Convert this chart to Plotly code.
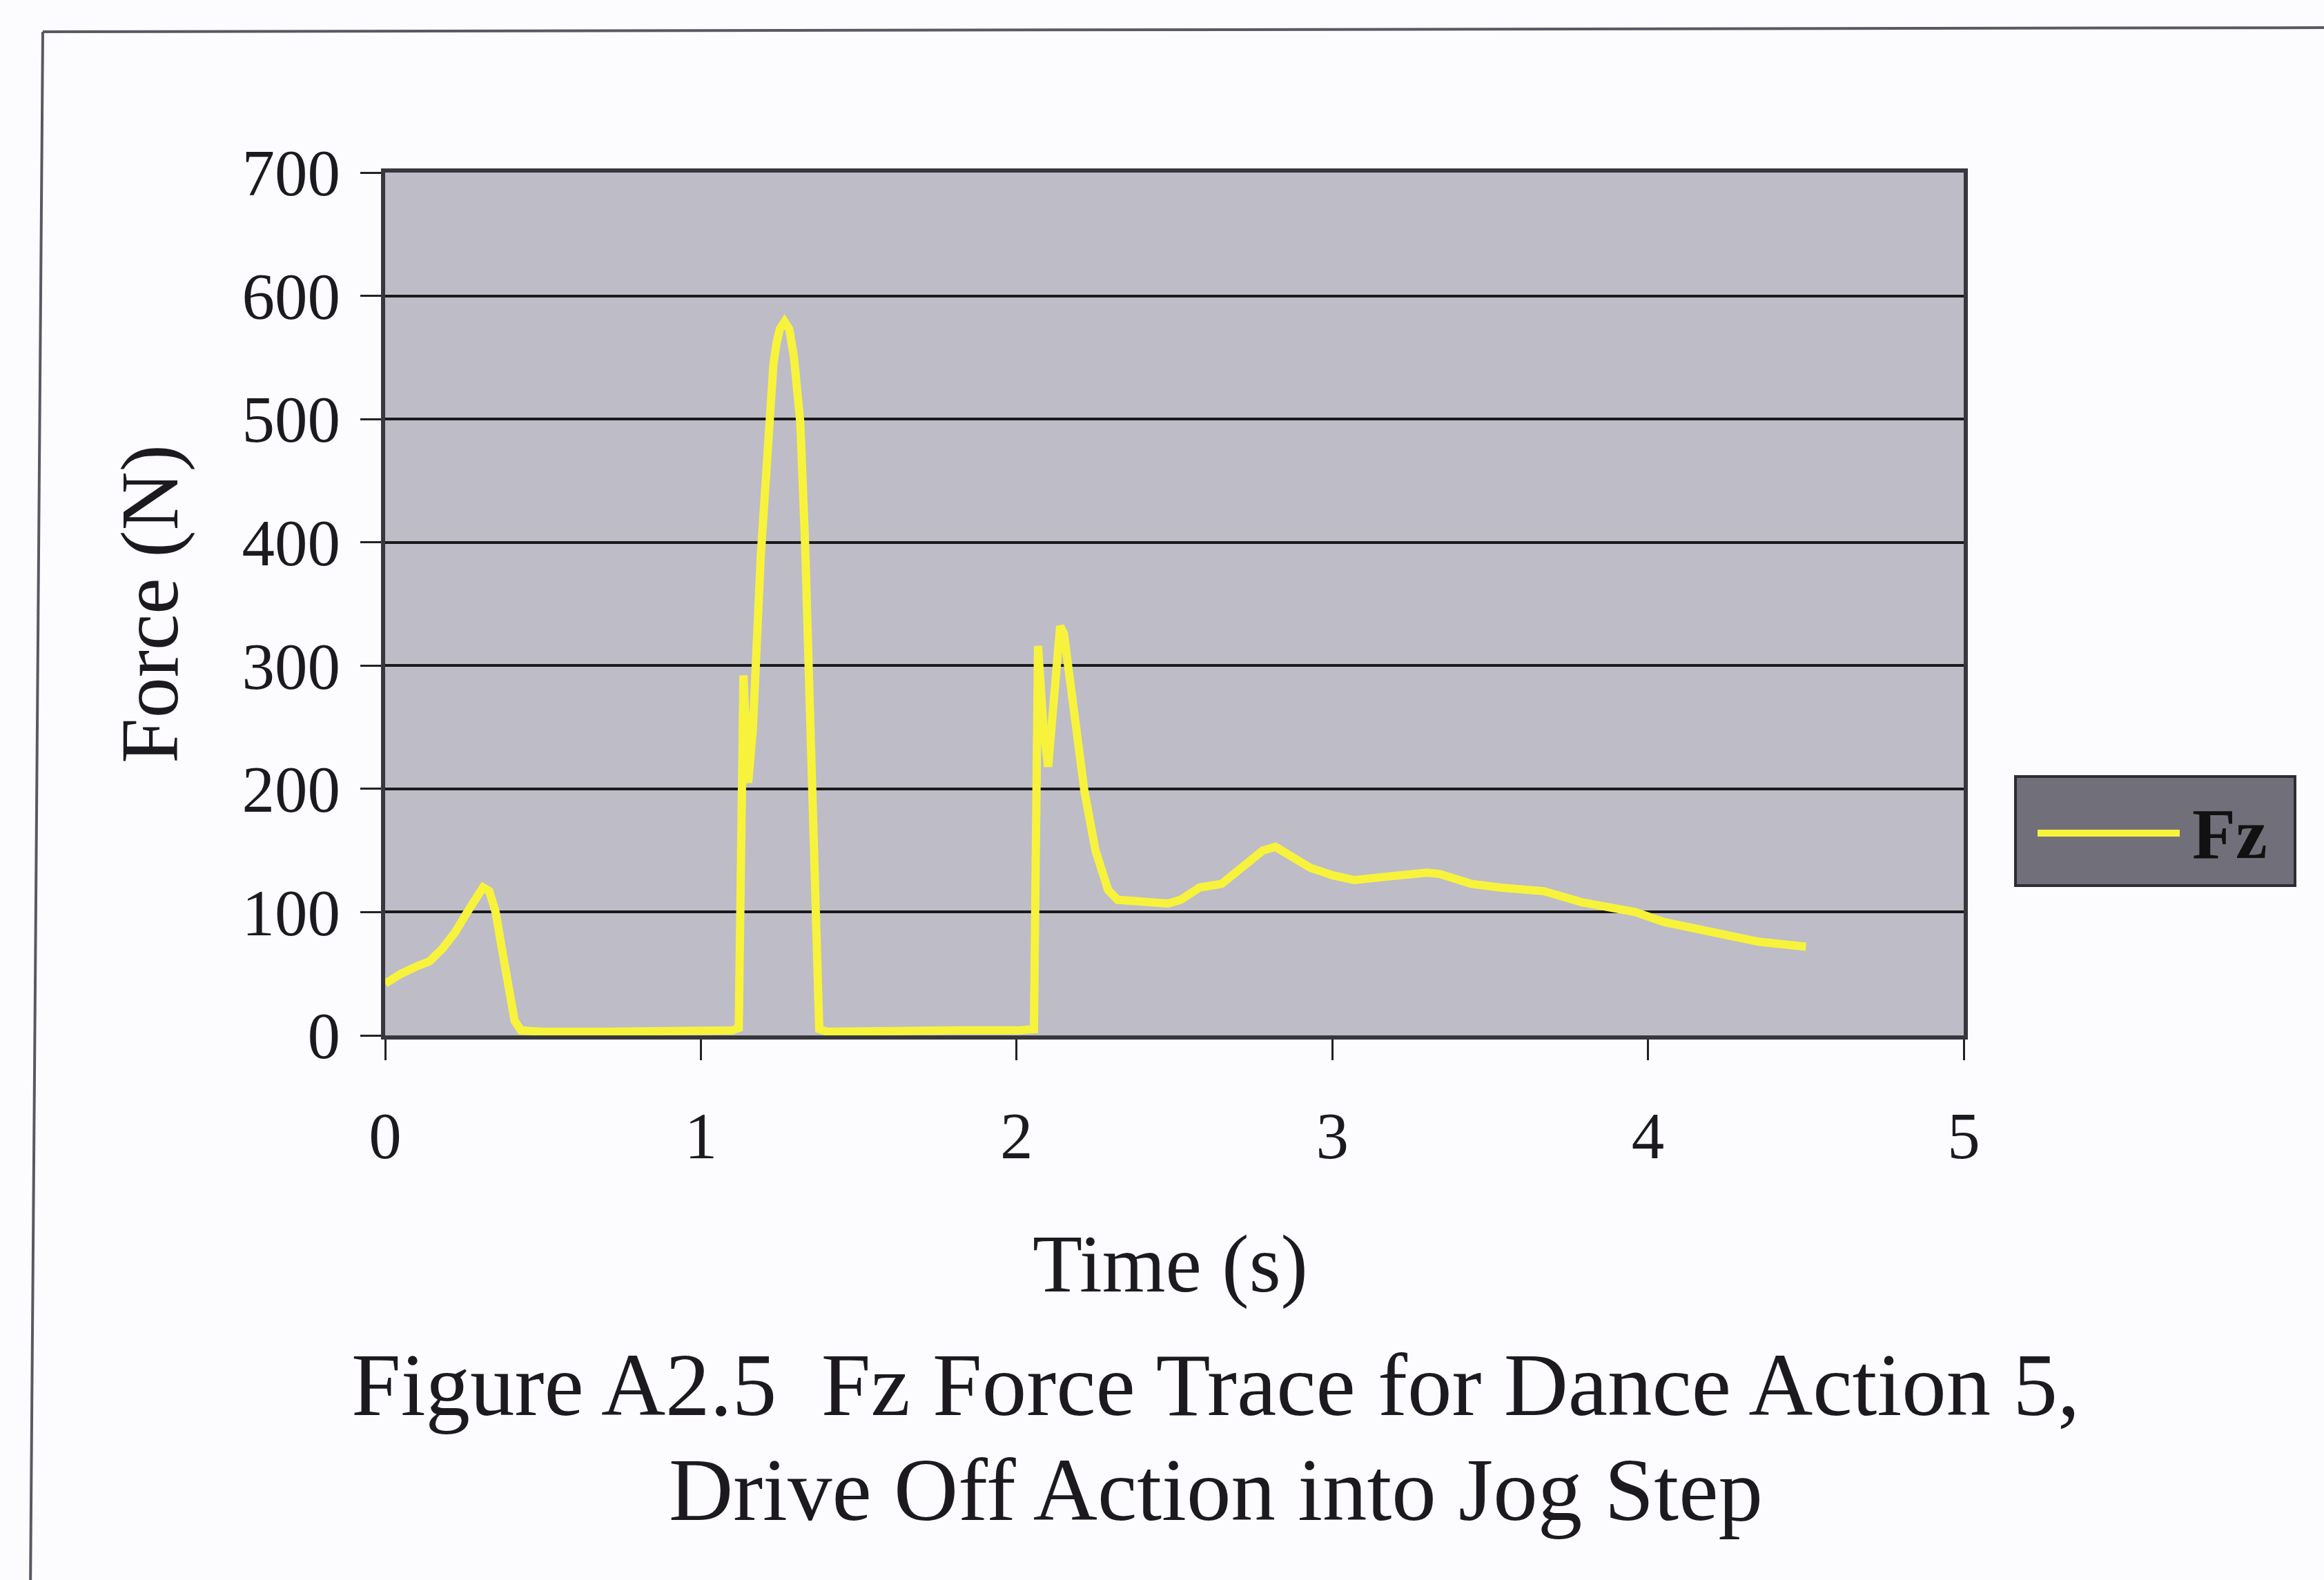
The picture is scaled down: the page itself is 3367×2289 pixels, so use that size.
import plotly.graph_objects as go

# Fz ground reaction force trace, dance action 5 (drive off into jog step)
time_s = [0.00, 0.05, 0.10, 0.14, 0.18, 0.22, 0.26, 0.29, 0.31, 0.33, 0.35, 0.37,
          0.39, 0.41, 0.43, 0.50, 0.70, 0.90, 1.10, 1.12, 1.135, 1.15, 1.165, 1.19,
          1.21, 1.23, 1.24, 1.25, 1.265, 1.28, 1.295, 1.315, 1.33, 1.342, 1.354,
          1.364, 1.375, 1.40, 1.60, 1.80, 2.00, 2.055, 2.068, 2.085, 2.10, 2.12,
          2.138, 2.15, 2.185, 2.215, 2.25, 2.29, 2.32, 2.40, 2.48, 2.52, 2.58, 2.65,
          2.72, 2.78, 2.82, 2.87, 2.93, 3.00, 3.07, 3.18, 3.30, 3.34, 3.44, 3.53,
          3.67, 3.79, 3.96, 4.05, 4.23, 4.35, 4.50]
force_n = [42, 50, 56, 60, 70, 83, 100, 114, 120, 117, 100, 70,
           38, 12, 4, 3, 3, 4, 4, 6, 292, 205, 250, 390,
           480, 545, 562, 573, 579, 573, 550, 497, 400, 298, 198,
           99, 5, 3, 4, 4, 4, 5, 316, 250, 218, 280,
           332, 326, 255, 198, 150, 118, 110, 109, 107, 110, 120, 123,
           137, 150, 153, 146, 136, 130, 126, 129, 132, 131, 123, 120,
           117, 108, 100, 92, 82, 76, 72]

x_ticks = [0, 1, 2, 3, 4, 5]
y_ticks = [0, 100, 200, 300, 400, 500, 600, 700]

series_name = "Fz"
x_title = "Time (s)"
y_title = "Force (N)"
caption_1 = "Figure A2.5\u00a0\u00a0Fz Force Trace for Dance Action 5,"
caption_2 = "Drive Off Action into Jog Step"

W, H = 3367, 2289
PL, PR, PT, PB = 558, 2845, 250, 1500  # plot area in pixels


def px(X):
    return (X - PL) / (PR - PL)


def py(Y):
    return (PB - Y) / (PB - PT)


FONT = "Liberation Serif, Times New Roman, serif"
INK = "#1c1a1f"
LINE_YELLOW = "#f7f33c"

fig = go.Figure()
fig.add_trace(go.Scatter(
    x=time_s, y=force_n, mode="lines", name=series_name,
    line=dict(color=LINE_YELLOW, width=12),
))

axis_common = dict(
    ticks="outside", ticklen=30, tickwidth=3, tickcolor="#222",
    showline=True, mirror=True, linewidth=6, linecolor="#38373d",
    zeroline=False, tickfont=dict(family=FONT, size=95, color=INK),
)

fig.update_xaxes(range=[0, 5], tickvals=x_ticks, showgrid=False,
                 ticklabelstandoff=28, **axis_common)
fig.update_yaxes(range=[0, 700], tickvals=y_ticks, showgrid=True,
                 gridcolor="#1a1a1a", gridwidth=4,
                 ticklabelstandoff=10, **axis_common)

shapes = [
    # outer chart border (top and left edges visible on the page)
    dict(type="line", xref="paper", yref="paper",
         x0=px(62), y0=py(46), x1=px(W + 20), y1=py(40),
         line=dict(color="#5a5860", width=4)),
    dict(type="line", xref="paper", yref="paper",
         x0=px(62), y0=py(46), x1=px(44), y1=py(H + 20),
         line=dict(color="#5a5860", width=4)),
    # legend box
    dict(type="rect", xref="paper", yref="paper",
         x0=px(2920), y0=py(1125), x1=px(3325), y1=py(1283),
         fillcolor="#716f7a", line=dict(color="#2e2d33", width=4)),
    dict(type="line", xref="paper", yref="paper",
         x0=px(2952), y0=py(1207), x1=px(3158), y1=py(1207),
         line=dict(color=LINE_YELLOW, width=10)),
]

annotations = [
    dict(text=series_name, x=px(3174), y=py(1208), xref="paper", yref="paper",
         xanchor="left", yanchor="middle", showarrow=False,
         font=dict(family=FONT, size=103, color="#111", weight="bold")),
    dict(text=x_title, x=px(1695), y=py(1831), xref="paper", yref="paper",
         xanchor="center", yanchor="middle", showarrow=False,
         font=dict(family=FONT, size=118, color=INK)),
    dict(text=y_title, x=px(217), y=py(875), xref="paper", yref="paper",
         xanchor="center", yanchor="middle", showarrow=False, textangle=-90,
         font=dict(family=FONT, size=118, color=INK)),
    dict(text=caption_1, x=px(1761), y=py(2006), xref="paper", yref="paper",
         xanchor="center", yanchor="middle", showarrow=False,
         font=dict(family=FONT, size=129, color=INK)),
    dict(text=caption_2, x=px(1761), y=py(2158), xref="paper", yref="paper",
         xanchor="center", yanchor="middle", showarrow=False,
         font=dict(family=FONT, size=129, color=INK)),
]

fig.update_layout(
    width=W, height=H, autosize=False,
    margin=dict(l=PL, r=W - PR, t=PT, b=H - PB, pad=0),
    paper_bgcolor="#fcfcfe", plot_bgcolor="#bdbcc7",
    showlegend=False, shapes=shapes, annotations=annotations,
)

fig.write_html("out.html")
